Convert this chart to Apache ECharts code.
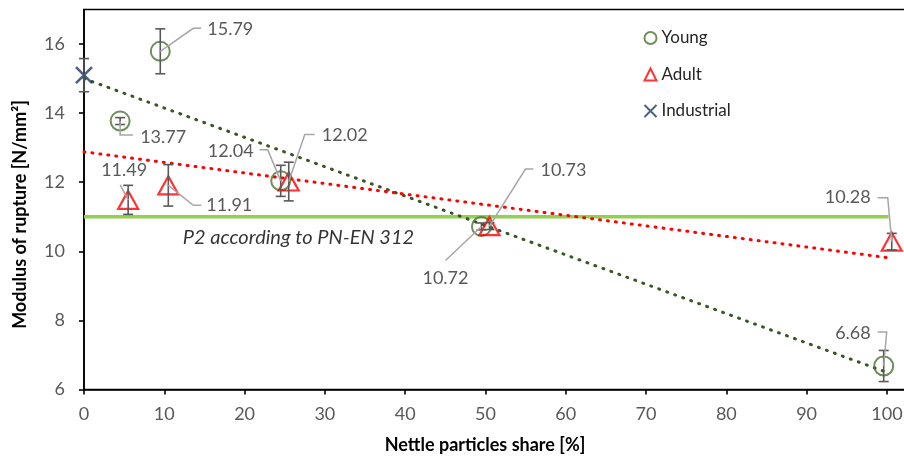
<!DOCTYPE html>
<html>
<head>
<meta charset="utf-8">
<script src="https://cdn.jsdelivr.net/npm/echarts@6/dist/echarts.min.js"></script>
<style>
  html, body { margin: 0; padding: 0; background: #fff; }
  #chart { width: 904px; height: 459px; }
</style>
</head>
<body>
<div id="chart"></div>
<script>
// Modulus of rupture of boards vs. nettle particle share
const youngShare = [4.5, 9.5, 24.5, 49.5, 99.6];
const youngMOR = [13.77, 15.79, 12.04, 10.72, 6.68];
const youngErr = [0.1, 0.65, 0.45, 0.1, 0.45];

const adultShare = [5.5, 10.5, 25.5, 50.5, 100.6];
const adultMOR = [11.49, 11.91, 12.02, 10.73, 10.28];
const adultErr = [0.42, 0.6, 0.56, 0.1, 0.24];

const industrialShare = [0];
const industrialMOR = [15.1];
const industrialErr = [0.48];

// linear trends (end points)
const youngTrendX = [0, 99.6];
const youngTrendY = [15.0, 6.53];
const adultTrendX = [0, 100.6];
const adultTrendY = [12.88, 9.8];

// P2 requirement line
const p2X = [0, 100.2];
const p2Y = [11, 11];
const p2Text = 'P2 according to PN-EN 312';

const xTicks = [0, 10, 20, 30, 40, 50, 60, 70, 80, 90, 100];
const yTicks = [6, 8, 10, 12, 14, 16];

// label placement (pixel offsets from the marker: leader bend, elbow, text)
const youngLabelLayout = [
  { bend: [0, 14], elbow: 13, text: [7, 2], align: 'left' },
  { bend: [33, -23], elbow: 8, text: [6, 1], align: 'left' },
  { bend: [-13, -31], elbow: -8, text: [-6, 1], align: 'right' },
  { bend: [-36, 34], elbow: 0, text: [0, 18], align: 'center' },
  { bend: [3, -34], elbow: -9, text: [-7, 1], align: 'right' }
];
const adultLabelLayout = [
  { bend: [-8, -15], elbow: 0, text: [4, -15], align: 'center' },
  { bend: [25, 20], elbow: 8, text: [5, 0], align: 'left' },
  { bend: [16, -47], elbow: 10, text: [7, 1], align: 'left' },
  { bend: [36, -57], elbow: 8, text: [7, 1], align: 'left' },
  { bend: [-4, -44], elbow: -10, text: [-7, 0], align: 'right' }
];

const FONT = 'Lato';
const GREEN = '#4A7330';
const GREEN_DARK = '#375623';
const RED = '#FF0000';
const NAVY = '#1F3864';

const zip = (a, b, c) => a.map((v, i) => c ? [v, b[i], c[i]] : [v, b[i]]);

function errorBarItem(params, api) {
  const x = api.value(0), y = api.value(1), e = api.value(2);
  const top = api.coord([x, y + e]);
  const bot = api.coord([x, y - e]);
  const hw = 5;
  const st = { stroke: '#595959', lineWidth: 1.6 };
  return {
    type: 'group',
    children: [
      { type: 'line', shape: { x1: top[0], y1: top[1], x2: bot[0], y2: bot[1] }, style: st },
      { type: 'line', shape: { x1: top[0] - hw, y1: top[1], x2: top[0] + hw, y2: top[1] }, style: st },
      { type: 'line', shape: { x1: bot[0] - hw, y1: bot[1], x2: bot[0] + hw, y2: bot[1] }, style: st }
    ]
  };
}

function labelRenderer(layout) {
  return function (params, api) {
    const p = api.coord([api.value(0), api.value(1)]);
    const L = layout[params.dataIndex];
    const b = [p[0] + L.bend[0], p[1] + L.bend[1]];
    const e = [b[0] + L.elbow, b[1]];
    return {
      type: 'group',
      children: [
        { type: 'polyline', shape: { points: [p, b, e] },
          style: { stroke: '#A6A6A6', lineWidth: 1.5, fill: null } },
        { type: 'text', x: e[0] + L.text[0], y: e[1] + L.text[1],
          style: { text: api.value(1).toFixed(2), fill: '#595959',
                   font: '18px ' + FONT, align: L.align, verticalAlign: 'middle',
                   textAlign: L.align, textVerticalAlign: 'middle' } }
      ]
    };
  };
}

const chart = echarts.init(document.getElementById('chart'), null, { renderer: 'canvas' });

chart.setOption({
  animation: false,
  textStyle: { fontFamily: FONT },
  grid: {
    left: 84, top: 9.5, width: 827, height: 380,
    outerBoundsMode: 'none', containLabel: false,
    show: true, borderColor: '#000', borderWidth: 1.6, backgroundColor: 'transparent'
  },
  legend: {
    data: ['Young', 'Adult', 'Industrial'],
    orient: 'vertical',
    left: 637, top: 23,
    itemWidth: 12, itemHeight: 12, itemGap: 16.5,
    textStyle: { fontSize: 17, color: '#262626', fontFamily: FONT, lineHeight: 20 }
  },
  xAxis: {
    type: 'value', min: 0, max: 103, interval: 10,
    name: 'Nettle particles share [%]',
    nameLocation: 'middle', nameGap: 47,
    nameTextStyle: { fontSize: 18, fontWeight: 'bold', color: '#000', fontFamily: FONT, padding: [0, 25, 0, 0] },
    axisLine: { show: true, lineStyle: { color: '#000', width: 1.6 } },
    axisTick: { show: true, length: 5, customValues: xTicks, lineStyle: { color: '#000', width: 1.6 } },
    axisLabel: { customValues: xTicks, fontSize: 18, color: '#595959', margin: 16, fontFamily: FONT },
    splitLine: { show: false }
  },
  yAxis: {
    type: 'value', min: 6, max: 17, interval: 2,
    name: 'Modulus of rupture [N/mm²]',
    nameLocation: 'middle', nameGap: 55,
    nameTextStyle: { fontSize: 18, fontWeight: 'bold', color: '#000', fontFamily: FONT, padding: [0, 30, 0, 0] },
    axisLine: { show: true, lineStyle: { color: '#000', width: 1.6 } },
    axisTick: { show: true, length: 5, customValues: yTicks, lineStyle: { color: '#000', width: 1.6 } },
    axisLabel: { customValues: yTicks, fontSize: 18, color: '#595959', margin: 19, fontFamily: FONT },
    splitLine: { show: false }
  },
  series: [
    {
      name: 'P2', type: 'line', data: zip(p2X, p2Y), symbol: 'none', silent: true, z: 1,
      lineStyle: { color: '#92D050', width: 3.5 }
    },
    {
      name: 'P2 text', type: 'scatter', data: [[12.3, p2Y[0]]], symbolSize: 0, silent: true, z: 1,
      label: { show: true, position: 'right', distance: 0, offset: [0, 21],
               formatter: p2Text, fontSize: 20, fontStyle: 'italic', color: '#000', fontFamily: FONT }
    },
    {
      name: 'Young trend', type: 'line', data: zip(youngTrendX, youngTrendY), symbol: 'none', silent: true, z: 2,
      lineStyle: { color: GREEN_DARK, width: 3, type: [1, 7.5], cap: 'round' }
    },
    {
      name: 'Adult trend', type: 'line', data: zip(adultTrendX, adultTrendY), symbol: 'none', silent: true, z: 2,
      lineStyle: { color: RED, width: 3, type: [1, 7], cap: 'round' }
    },
    {
      name: 'Young', type: 'scatter', data: zip(youngShare, youngMOR), symbol: 'circle', symbolSize: 19, z: 3,
      itemStyle: { color: 'rgba(255,255,255,0)', borderColor: GREEN, borderWidth: 2 }
    },
    {
      name: 'Adult', type: 'scatter', data: zip(adultShare, adultMOR), symbol: 'triangle', symbolSize: [20, 18], z: 3,
      itemStyle: { color: 'rgba(255,255,255,0)', borderColor: RED, borderWidth: 2.2 }
    },
    {
      name: 'Industrial', type: 'scatter', data: zip(industrialShare, industrialMOR),
      symbol: 'path://M0,0L10,10M10,0L0,10', symbolSize: 16, z: 3,
      itemStyle: { color: 'none', borderColor: NAVY, borderWidth: 2.5 }
    },
    { type: 'custom', data: zip(youngShare, youngMOR, youngErr), renderItem: errorBarItem, silent: true, z: 4, clip: false },
    { type: 'custom', data: zip(adultShare, adultMOR, adultErr), renderItem: errorBarItem, silent: true, z: 4, clip: false },
    { type: 'custom', data: zip(industrialShare, industrialMOR, industrialErr), renderItem: errorBarItem, silent: true, z: 4, clip: false },
    { type: 'custom', data: zip(youngShare, youngMOR), renderItem: labelRenderer(youngLabelLayout), silent: true, z: 5, clip: false },
    { type: 'custom', data: zip(adultShare, adultMOR), renderItem: labelRenderer(adultLabelLayout), silent: true, z: 5, clip: false }
  ]
});
</script>
</body>
</html>
